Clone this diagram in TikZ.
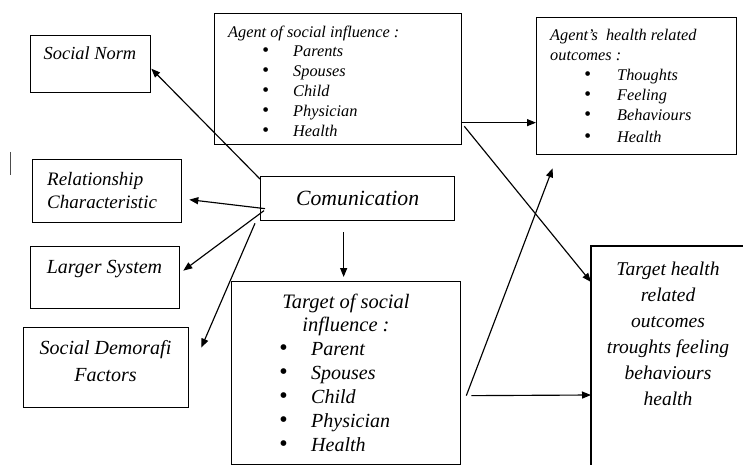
\documentclass[tikz,border=0pt]{standalone}
\usepackage{fontspec}
\setmainfont{Liberation Serif}
\usetikzlibrary{arrows.meta}
\newcommand\bla{\makebox[65pt][l]{\hspace{34pt}\scalebox{1.2}{\textbullet}}}
\newcommand\blb{\makebox[67pt][l]{\hspace{34pt}\scalebox{1.2}{\textbullet}}}
\newcommand\blc{\makebox[32pt][l]{\scalebox{1.2}{\textbullet}}}
\begin{document}
\begin{tikzpicture}[x=1pt,y=-1pt,
  box/.style={draw,line width=1.3pt,inner sep=0pt,anchor=north west},
  txt/.style={inner sep=0pt},
  arr/.style={line width=1.15pt,-{Triangle[length=9pt,width=7pt]}},
  ln/.style={line width=1pt}]
\useasboundingbox (0,0) rectangle (743,465);

% boxes
\node[box,minimum width=120pt,minimum height=57pt] (sn) at (30,35) {};
\node[box,minimum width=247pt,minimum height=131pt] (ag) at (214,13) {};
\node[box,minimum width=149pt,minimum height=63pt] (rc) at (32,159) {};
\node[box,minimum width=194pt,minimum height=44pt,font=\itshape\fontsize{21.7}{25}\selectfont] (comm) at (260,176) {Comunication};
\node[box,minimum width=149pt,minimum height=62pt] (ls) at (30,246) {};
\node[box,minimum width=165pt,minimum height=80pt] (sd) at (23,327) {};
\node[box,minimum width=229pt,minimum height=183pt] (tg) at (231,281) {};
\node[box,minimum width=200pt,minimum height=137pt] (ah) at (536,17) {};
\node[box,draw=none,minimum width=151pt,minimum height=219pt] (th) at (591,246) {};
\draw[line width=1.3pt] (th.south west) -- (th.north west) -- (th.north east) -- (th.south east);

% texts
\node[txt,anchor=north,font=\itshape\fontsize{18.4}{22}\selectfont] (snt) at (90,47) {Social Norm};
\node[txt,anchor=north west,align=left,font=\itshape\fontsize{16.3}{19.8}\selectfont] (agt) at (228,25.5)
  {Agent of social influence :\\ \bla Parents\\ \bla Spouses\\ \bla Child\\ \bla Physician\\ \bla Health};
\node[txt,anchor=north west,align=left,font=\itshape\fontsize{16.3}{20}\selectfont] (aht) at (550,28.5)
  {Agent’s\ \ health related\\ outcomes :\\ \blb Thoughts\\ \blb Feeling\\ \blb Behaviours\\[2pt] \blb Health};
\node[txt,anchor=north west,align=left,font=\itshape\fontsize{19}{23}\selectfont] (rct) at (47,172.5)
  {Relationship\\ Characteristic};
\node[txt,anchor=north,font=\itshape\fontsize{20}{23}\selectfont] (lst) at (104.5,260) {Larger System};
\node[txt,anchor=north,align=center,font=\itshape\fontsize{20}{27}\selectfont] (sdt) at (105.5,340.5)
  {Social Demorafi\\ Factors};
\node[txt,anchor=north,align=center,font=\itshape\fontsize{20.5}{23}\selectfont] (tgt) at (346,293.5)
  {Target of social\\ influence :};
\node[txt,anchor=north west,align=left,font=\itshape\fontsize{20}{24}\selectfont] (tgl) at (279,342)
  {\blc Parent\\ \blc Spouses\\ \blc Child\\ \blc Physician\\ \blc Health};
\node[txt,anchor=north,align=center,font=\itshape\fontsize{19.5}{26}\selectfont] (tht) at (668,261.5)
  {Target health\\ related\\ outcomes\\ troughts feeling\\ behaviours\\ health};

% stray mark
\coordinate (m1) at (10,152);
\coordinate (m2) at (10,175);
\draw[line width=0.8pt,black!70] (m1) -- (m2);

% connectors
\draw[arr] ([yshift=-3pt]comm.north west) -- ([yshift=-4.5pt]sn.east);
\draw[arr] ([xshift=5pt,yshift=-10pt]comm.west) -- ([xshift=7pt,yshift=-8.5pt]rc.east);
\draw[arr] ([xshift=4pt,yshift=-12pt]comm.west) -- ([xshift=3pt,yshift=7pt]ls.east);
\draw[arr] ([xshift=-5pt,yshift=-2pt]comm.south west) -- ([xshift=12pt,yshift=20pt]sd.east);
\draw[arr] ([xshift=-14pt,yshift=-11pt]comm.south) -- ([xshift=-2.5pt,yshift=4pt]tg.north);
\draw[arr] ([yshift=-43.5pt]ag.east) -- ([yshift=-36.5pt]ah.west);
\draw[arr] ([xshift=2pt,yshift=19pt]ag.south east) -- ([yshift=-36pt]th.north west);
\draw[arr] ([xshift=5pt,yshift=-22.5pt]tg.east) -- ([xshift=-84pt,yshift=-13pt]ah.south);
\draw[arr] ([xshift=10pt,yshift=-22.5pt]tg.east) -- ([yshift=-149pt]th.north west);
\end{tikzpicture}
\end{document}
